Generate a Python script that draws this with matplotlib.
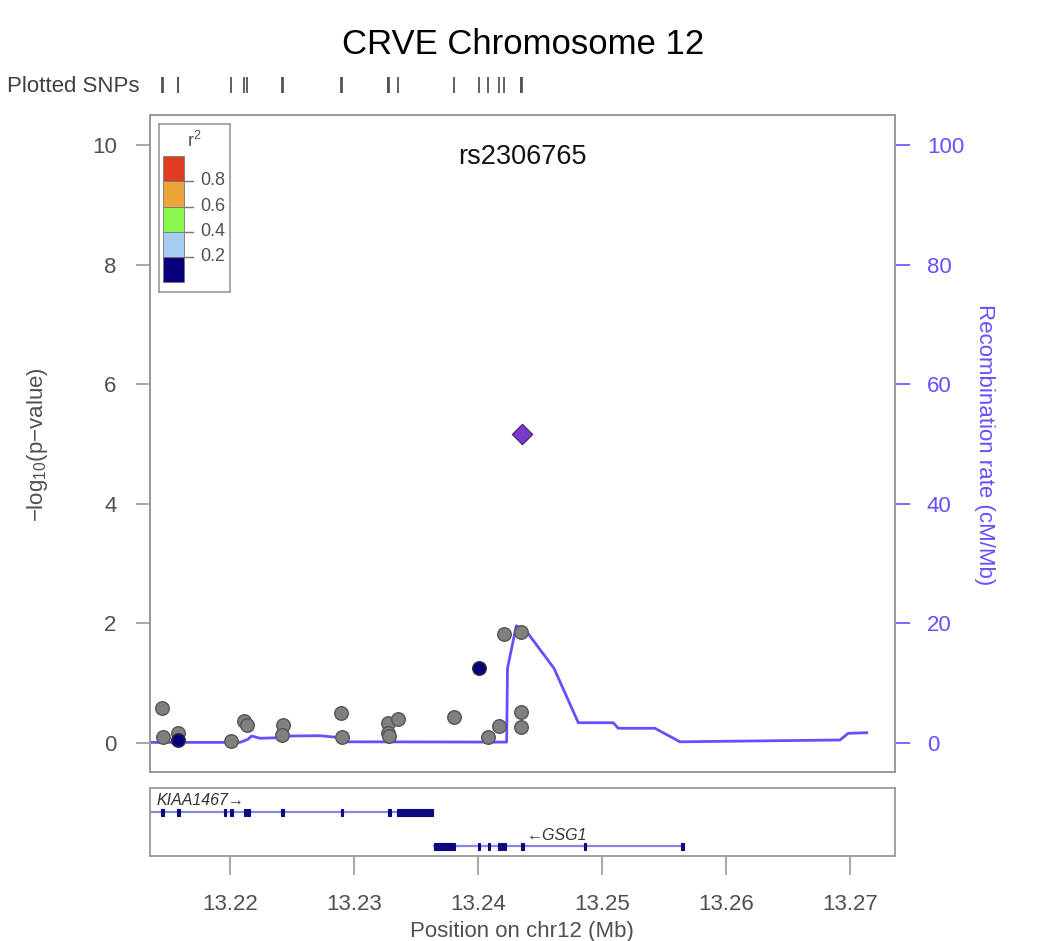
import matplotlib
matplotlib.use('Agg')
import matplotlib.pyplot as plt
from matplotlib.patches import Rectangle

plt.rcParams['font.family'] = ['Liberation Sans', 'DejaVu Sans']
plt.rcParams['mathtext.fontset'] = 'custom'
plt.rcParams['mathtext.rm'] = 'Liberation Sans'
plt.rcParams['mathtext.it'] = 'Liberation Sans:italic'

# ---------------- data ----------------
title = "CRVE Chromosome 12"
lead_snp = "rs2306765"
lead_pos = 13.24355
lead_logp = 5.17

gray_pos = [13.21449, 13.21457, 13.21583, 13.22008, 13.22115, 13.22135, 13.22425,
            13.22417, 13.22895, 13.22901, 13.23277, 13.23352, 13.23277, 13.23285,
            13.23806, 13.24078, 13.24172, 13.24212, 13.24347, 13.24347, 13.24347]
gray_logp = [0.58, 0.105, 0.16, 0.04, 0.37, 0.30, 0.30,
             0.13, 0.50, 0.105, 0.34, 0.40, 0.16, 0.12,
             0.43, 0.105, 0.29, 1.83, 1.85, 0.51, 0.27]
navy_pos = [13.21578, 13.24010]
navy_logp = [0.05, 1.25]

rec_pos = [13.21369, 13.22081, 13.22145, 13.22175, 13.22242, 13.22403, 13.22484,
           13.22726, 13.22860, 13.22901, 13.24231, 13.24238, 13.24309, 13.24393,
           13.24613, 13.24809, 13.25091, 13.25131, 13.25427, 13.25629, 13.26919,
           13.26986, 13.27135]
rec_rate = [0.1, 0.1, 0.62, 1.17, 0.79, 0.89, 1.17,
            1.22, 0.95, 0.2, 0.15, 12.49, 19.6, 18.6,
            12.49, 3.39, 3.39, 2.46, 2.46, 0.2, 0.5,
            1.62, 1.72]

ld_colors = ["#E03C22", "#EBA53A", "#8AF84E", "#A6CCF2", "#07007A"]
ld_labels = ["0.8", "0.6", "0.4", "0.2"]

x_ticks = [13.22, 13.23, 13.24, 13.25, 13.26, 13.27]
y_ticks = [0, 2, 4, 6, 8, 10]
y2_ticks = [0, 20, 40, 60, 80, 100]

gene1_name = "KIAA1467\u2192"
gene1_span = (13.2120, 13.23640)
gene1_exons = [(13.21447, 13.21467), (13.21573, 13.21593), (13.21950, 13.21970),
               (13.22004, 13.22024), (13.22111, 13.22131), (13.22138, 13.22158),
               (13.22415, 13.22435), (13.22893, 13.22909), (13.23275, 13.23295),
               (13.23349, 13.23640)]
gene2_name = "\u2190GSG1"
gene2_span = (13.23645, 13.25648)
gene2_exons = [(13.23645, 13.23815), (13.24002, 13.24018), (13.24081, 13.24097),
               (13.24161, 13.24177), (13.24183, 13.24199), (13.24210, 13.24226),
               (13.24343, 13.24371), (13.24853, 13.24873), (13.25638, 13.25658)]

# ---------------- layout helpers ----------------
W, H = 1050, 941
fig = plt.figure(figsize=(10.5, 9.41), dpi=100)


def box(l, t, r, b):
    return [l / W, 1 - b / H, (r - l) / W, (b - t) / H]


XMIN, XMAX = 13.21355, 13.27363
GRAY_TXT = "#505050"
FRAME = "#9A9A9A"
REC_COL = "#6450FF"

# ---------------- main axes ----------------
ax = fig.add_axes(box(150, 115, 895, 772))
ax.set_xlim(XMIN, XMAX)
ax.set_ylim(-0.485, 10.50)
ax.set_xticks([])
ax.set_yticks(y_ticks)
ax.tick_params(axis='y', length=10, width=1.2, color=FRAME, labelsize=16,
               labelcolor=GRAY_TXT, pad=14)
for s in ax.spines.values():
    s.set_color(FRAME)
    s.set_linewidth(1.3)

ax2 = ax.twinx()
ax2.set_ylim(-4.85, 105.0)
ax2.set_yticks(y2_ticks)
ax2.tick_params(axis='y', length=11, width=1.2, color=REC_COL, labelsize=16,
                labelcolor=REC_COL, pad=12)
for s in ax2.spines.values():
    s.set_color(FRAME)
    s.set_linewidth(1.3)
ax2.plot(rec_pos, rec_rate, color=REC_COL, lw=2.0, zorder=1)

ax.set_zorder(ax2.get_zorder() + 1)
ax.patch.set_visible(False)

ax.scatter(gray_pos, gray_logp, s=95, c="#808080", edgecolors="#555555",
           linewidths=1.0, zorder=3)
ax.scatter(navy_pos, navy_logp, s=95, c=ld_colors[4], edgecolors="#303030",
           linewidths=1.0, zorder=4)
ax.scatter([lead_pos], [lead_logp], s=105, marker='D', c="#7A3CC8",
           edgecolors="#4A2A7A", linewidths=1.0, zorder=5)
ax.text(lead_pos, 9.8, lead_snp, ha='center', va='center', fontsize=19.5,
        color="#111111")

fig.text(38 / W, 1 - 445 / H, r"$-$log$_{10}$(p$-$value)", rotation=90,
         ha='center', va='center', fontsize=16, color=GRAY_TXT)
fig.text(985 / W, 1 - 445 / H, "Recombination rate (cM/Mb)", rotation=270,
         ha='center', va='center', fontsize=16, color=REC_COL)

# ---------------- legend ----------------
lax = fig.add_axes(box(159, 124, 230, 292))
lax.set_xlim(0, 71)
lax.set_ylim(168, 0)
lax.set_xticks([])
lax.set_yticks([])
for s in lax.spines.values():
    s.set_color(FRAME)
    s.set_linewidth(1.2)
tops = [31.7, 57, 82.7, 107.7, 132.7]
bots = [57, 82.7, 107.7, 132.7, 158.3]
for col, t, b in zip(ld_colors, tops, bots):
    lax.add_patch(Rectangle((3.7, t), 21.6, b - t, facecolor=col,
                            edgecolor="#777777", lw=0.6))
for lab, yb in zip(ld_labels, bots[:4]):
    lax.plot([25.3, 34.3], [yb, yb], color="#777777", lw=1.0)
    lax.text(41, yb, lab, ha='left', va='center', fontsize=13, color=GRAY_TXT)
lax.text(35, 17, r"r$^2$", ha='center', va='center', fontsize=13, color=GRAY_TXT)

# ---------------- rug of plotted SNPs ----------------
rax = fig.add_axes(box(150, 77, 895, 93))
rax.set_xlim(XMIN, XMAX)
rax.set_ylim(0, 1)
rax.axis('off')
all_pos = gray_pos + navy_pos + [lead_pos]
rax.vlines(all_pos, 0, 1, color="#555555", lw=1.3)
fig.text(7 / W, 1 - 86 / H, "Plotted SNPs", ha='left', va='center',
         fontsize=16, color="#404040")

# ---------------- title ----------------
fig.text(523 / W, 1 - 44 / H, title, ha='center', va='center', fontsize=25,
         color="#000000")

# ---------------- gene track ----------------
gax = fig.add_axes(box(150, 788, 895, 856))
gax.set_xlim(XMIN, XMAX)
gax.set_ylim(0, 68)
gax.set_yticks([])
gax.set_xticks(x_ticks)
gax.set_xticklabels([f"{v:.2f}" for v in x_ticks])
gax.tick_params(axis='x', length=14, width=1.2, color=FRAME, labelsize=16,
                labelcolor=GRAY_TXT, pad=13)
for s in gax.spines.values():
    s.set_color(FRAME)
    s.set_linewidth(1.3)

LINE_COL = "#8A86E6"
EXON_COL = "#0B0B7E"
for (span, exons, yc, name, tx, ty, ha) in [
        (gene1_span, gene1_exons, 44, gene1_name, 13.21405, 55.5, 'left'),
        (gene2_span, gene2_exons, 10, gene2_name, 13.24637, 21, 'center')]:
    gax.plot(span, [yc, yc], color=LINE_COL, lw=1.6, zorder=1, clip_on=True)
    for a, b in exons:
        gax.add_patch(Rectangle((a, yc - 3.5), b - a, 7, facecolor=EXON_COL,
                                edgecolor=EXON_COL, lw=0.8, zorder=2))
    gax.text(tx, ty, name, ha=ha, va='center', fontsize=11.5, style='italic',
             color="#333333")

fig.text(522 / W, 1 - 931 / H, "Position on chr12 (Mb)", ha='center',
         va='center', fontsize=16, color=GRAY_TXT)

fig.savefig("out.png", dpi=100, facecolor='white')
